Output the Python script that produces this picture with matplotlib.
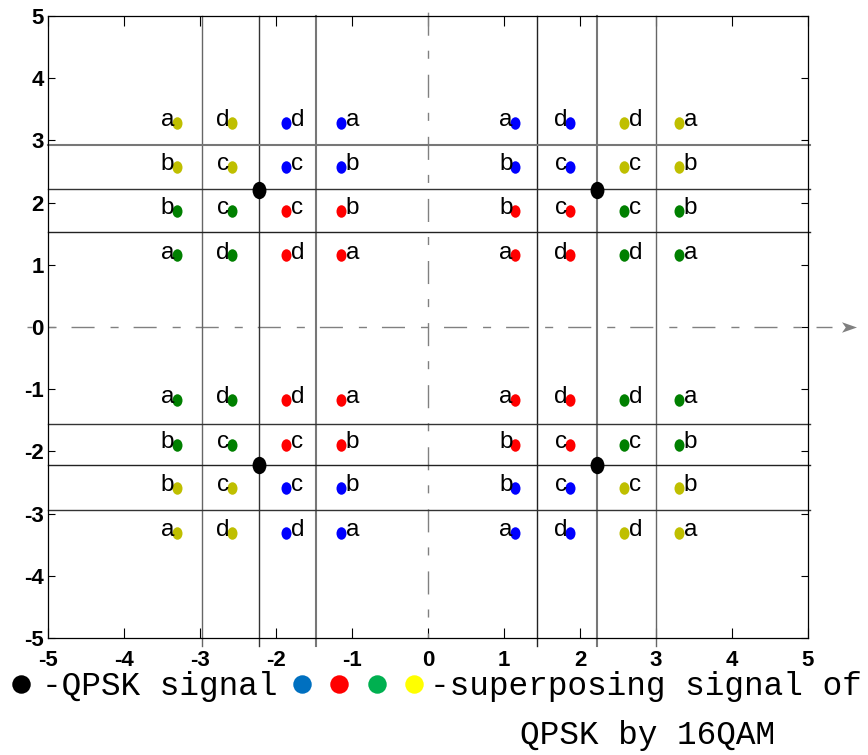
import matplotlib
matplotlib.use("Agg")
import matplotlib.pyplot as plt
from matplotlib import font_manager
from matplotlib.path import Path
from matplotlib.transforms import Affine2D
from matplotlib.lines import Line2D

plt.rcParams['axes.unicode_minus'] = False

# polices disponibles
installed = {f.name for f in font_manager.fontManager.ttflist}
sans = 'Liberation Sans Narrow' if 'Liberation Sans Narrow' in installed else 'Liberation Sans'
mono = 'Liberation Mono'

# positions des colonnes / lignes de la constellation
x_pos = [-3.30, -2.58, -1.87, -1.15, 1.15, 1.87, 2.58, 3.30]
y_pos = [3.28, 2.57, 1.87, 1.15, -1.17, -1.90, -2.59, -3.31]

# couleur de chaque point (ligne par ligne, de haut en bas)
dot_colors = ["yybbbbyy",
              "yybbbbyy",
              "ggrrrrgg",
              "ggrrrrgg",
              "ggrrrrgg",
              "ggrrrrgg",
              "yybbbbyy",
              "yybbbbyy"]

# lettre associee a chaque point
dot_labels = ["addaadda",
              "bccbbccb",
              "bccbbccb",
              "addaadda",
              "addaadda",
              "bccbbccb",
              "bccbbccb",
              "addaadda"]
label_side = "LLRRLLRR"  # lettre a gauche (L) ou a droite (R) du point

# points QPSK (noirs)
qpsk_x = [-2.22, 2.22, -2.22, 2.22]
qpsk_y = [2.20, 2.20, -2.22, -2.22]

# seuils de decision
vlines_x = [-2.97, -2.22, -1.47, 1.43, 2.22, 3.00]
hlines_y = [2.93, 2.22, 1.53, -1.56, -2.22, -2.94]

ticks = [-5, -4, -3, -2, -1, 0, 1, 2, 3, 4, 5]
tick_labels = ['-5', '-4', '-3', '-2', '-1', '0', '1', '2', '3', '4', '5']

# styles
cmap = {'y': '#bfbf00', 'b': '#0000ff', 'g': '#008000', 'r': '#ff0000'}
legend_colors = ['#0070c0', '#ff0000', '#00b050', '#ffff00']
vline_style = [('#666666', 1.0), ('#333333', 1.0), ('#777777', 1.5),
               ('#222222', 1.0), ('#777777', 1.5), ('#666666', 1.0)]
hline_style = [('#777777', 1.5), ('#333333', 1.0), ('#222222', 1.0),
               ('#333333', 1.0), ('#222222', 1.0), ('#333333', 1.0)]
dashdot = (13, (16.6, 11.5, 5.8, 10.8))

ellipse = Path.unit_circle().transformed(Affine2D().scale(0.8, 1.0))
arrow_head = Path([(1, 0), (-1, 0.7), (-0.5, 0), (-1, -0.7), (1, 0)],
                  [Path.MOVETO, Path.LINETO, Path.LINETO, Path.LINETO, Path.CLOSEPOLY])

fig = plt.figure(figsize=(8.68, 7.55), dpi=100)
ax = fig.add_axes([48/868, 1-638/755, 760/868, 622/755])
ax.set_xlim(-5, 5)
ax.set_ylim(-5, 5)

# axes en trait mixte
ax.plot([-5.28, 5.32], [0, 0], color='#808080', lw=1, ls=dashdot, clip_on=False)
ax.plot([0, 0], [-5, 5.26], color='#808080', lw=1, ls=dashdot, clip_on=False)
ax.plot([5.54], [0], marker=arrow_head, ms=10.8, color='#808080', mec='none', clip_on=False)

# seuils
for xv, (c, w) in zip(vlines_x, vline_style):
    ax.plot([xv, xv], [-5.13, 5.0], color=c, lw=w, clip_on=False)
for yh, (c, w) in zip(hlines_y, hline_style):
    ax.plot([-5, 5.02], [yh, yh], color=c, lw=w, clip_on=False)

# points de la constellation + lettres
for i, yv in enumerate(y_pos):
    for j, xv in enumerate(x_pos):
        ax.plot(xv, yv, marker=ellipse, ms=9, color=cmap[dot_colors[i][j]],
                mec='none', ls='none')
        if label_side[j] == 'L':
            ax.annotate(dot_labels[i][j], (xv, yv), xytext=(-2, 2),
                        textcoords='offset points', ha='right', va='center',
                        fontsize=17.5, family=sans)
        else:
            ax.annotate(dot_labels[i][j], (xv, yv), xytext=(3.6, 2),
                        textcoords='offset points', ha='left', va='center',
                        fontsize=17.5, family=sans)

ax.plot(qpsk_x, qpsk_y, marker=ellipse, ms=12.5, color='black', mec='none', ls='none')

tick_font = dict(family=sans, fontsize=16, fontweight='bold')
ax.set_xticks(ticks, labels=tick_labels, **tick_font)
ax.set_yticks(ticks, labels=tick_labels, **tick_font)
ax.tick_params(direction='in', top=True, right=True, width=0.8)
ax.tick_params(axis='x', length=7, pad=8.5)
ax.tick_params(axis='y', length=5, pad=3)
for s in ax.spines.values():
    s.set_linewidth(0.9)

# legende faite a la main sous le graphique
W, H = 868, 755
fig.add_artist(Line2D([21/W], [1-684/H], marker='o', ms=13.3, color='black',
                      mec='none', transform=fig.transFigure))
for xc, c in zip([301.7, 339, 376.7, 414], legend_colors):
    fig.add_artist(Line2D([xc/W], [1-684/H], marker='o', ms=13.3, color=c,
                          mec='none', transform=fig.transFigure))
fig.text(42/W, 1-695/H, "-QPSK signal", family=mono, fontsize=23.6,
         ha='left', va='baseline')
fig.text(430/W, 1-695/H, "-superposing signal of", family=mono, fontsize=23.6,
         ha='left', va='baseline')
fig.text(520/W, 1-744/H, "QPSK by 16QAM", family=mono, fontsize=23.6,
         ha='left', va='baseline')

fig.savefig('out.png', dpi=100)
